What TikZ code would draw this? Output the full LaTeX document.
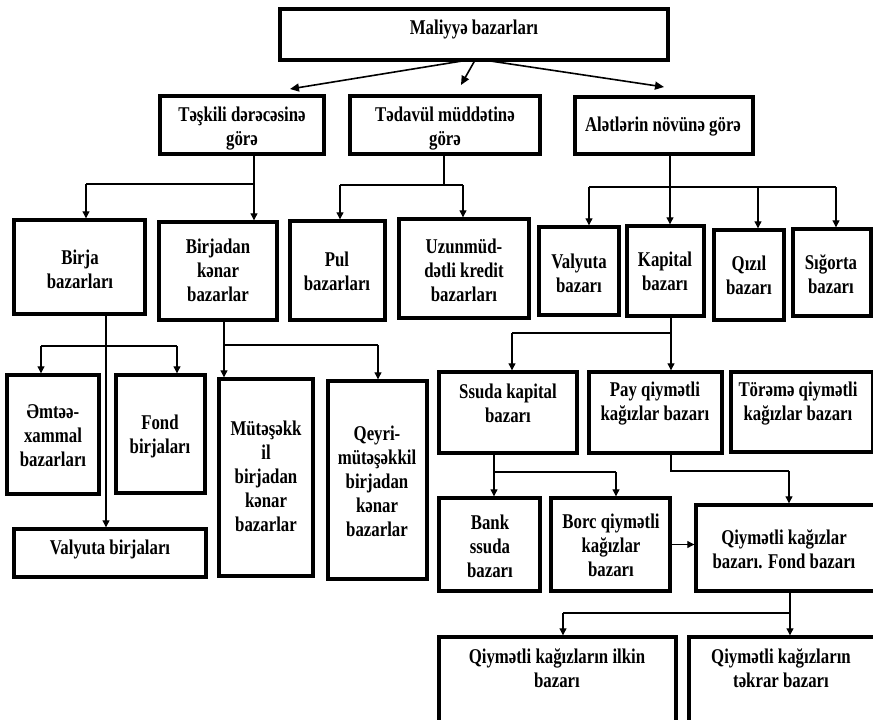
\documentclass[tikz,border=0pt]{standalone}
\usepackage{fontspec}
\setmainfont{Liberation Serif}[FakeStretch=0.8]
\usetikzlibrary{arrows.meta}
\newcommand\mybox[5]{\node[box, minimum width={#4-#2-3.6}, minimum height={#5-#3-3.6}] (#1) at ({(#2+#4)/2},{(#3+#5)/2}) {};}
\begin{document}
\begin{tikzpicture}[x=1pt,y=-1pt,
  box/.style={draw=black, line width=3.6pt, inner sep=0pt, outer sep=0pt, fill=white},
  txt/.style={font=\bfseries\fontsize{21}{24}\selectfont, align=center, inner sep=0pt},
  ln/.style={line width=1.1pt},
  arr/.style={line width=1.1pt, shorten >=1.5pt, -{Triangle[length=7pt,width=7pt]}},
  arrT/.style={line width=1.6pt, -{Triangle[length=9pt,width=8pt]}},
]
\useasboundingbox (0,0) rectangle (873,720);
\fill[white] (0,0) rectangle (873,720);
\clip (0,0) rectangle (873,720);

% boxes
\mybox{mal}{278}{7}{670}{62}
\mybox{tes}{158}{94}{326}{156}
\mybox{ted}{348}{94}{542}{156}
\mybox{ale}{573}{95}{755}{156}
\mybox{birja}{12}{218}{147}{316}
\mybox{birjk}{157}{220}{279}{322}
\mybox{pul}{288}{219}{387}{322}
\mybox{uzun}{397}{217}{531}{320}
\mybox{valb}{537}{225}{621}{317}
\mybox{kap}{625}{224}{706}{318}
\mybox{qiz}{712}{228}{786}{322}
\mybox{sig}{791}{227}{873}{318}
\mybox{emt}{5}{373}{101}{496}
\mybox{fond}{114}{373}{207}{495}
\mybox{valbir}{12}{527}{208}{579}
\mybox{mut}{217}{377}{315}{578}
\mybox{qey}{326}{379}{429}{581}
\mybox{ssuda}{437}{370}{579}{455}
\mybox{pay}{587}{370}{724}{455}
\mybox{tor}{729}{370}{875}{454}
\mybox{bank}{437}{496}{542}{593}
\mybox{borc}{549}{496}{672}{593}
\mybox{qkfb}{694}{503}{880}{593}
\mybox{ilkin}{437}{635}{678}{740}
\mybox{tekrar}{687}{635}{880}{740}

% texts
\node[txt] (mal-t) at (474,29) {Maliyyə bazarları};
\node[txt] (tes-t) at (242,128.5) {Təşkili dərəcəsinə\\görə};
\node[txt] (ted-t) at (445,128.5) {Tədavül müddətinə\\görə};
\node[txt] (ale-t) at (663,127) {Alətlərin növünə görə};
\node[txt] (birja-t) at (80,269) {Birja\\bazarları};
\node[txt] (birjk-t) at (218,270.5) {Birjadan\\kənar\\bazarlar};
\node[txt] (pul-t) at (337,271) {Pul\\bazarları};
\node[txt] (uzun-t) at (464,270) {Uzunmüd-\\dətli kredit\\bazarları};
\node[txt] (valb-t) at (579,273.5) {Valyuta\\bazarı};
\node[txt] (kap-t) at (665,271.5) {Kapital\\bazarı};
\node[txt] (qiz-t) at (749,275.5) {Qızıl\\bazarı};
\node[txt] (sig-t) at (831,274.5) {Sığorta\\bazarı};
\node[txt] (emt-t) at (53,436) {Əmtəə-\\xammal\\bazarları};
\node[txt] (fond-t) at (160,436.5) {Fond\\birjaları};
\node[txt] (valbir-t) at (110,549) {Valyuta birjaları};
\node[txt] (mut-t) at (266,476) {Mütəşəkk\\il\\birjadan\\kənar\\bazarlar};
\node[txt] (qey-t) at (377,481) {Qeyri-\\mütəşəkkil\\birjadan\\kənar\\bazarlar};
\node[txt] (ssuda-t) at (508,403.5) {Ssuda kapital\\bazarı};
\node[txt] (pay-t) at (655,403.5) {Pay qiymətli\\kağızlar bazarı};
\node[txt] (tor-t) at (798,403.5) {Törəmə qiymətli\\kağızlar bazarı};
\node[txt] (bank-t) at (490,546) {Bank\\ssuda\\bazarı};
\node[txt] (borc-t) at (611,545) {Borc qiymətli\\kağızlar\\bazarı};
\node[txt] (qkfb-t) at (784,549) {Qiymətli kağızlar\\bazarı. Fond bazarı};
\node[txt] (ilkin-t) at (557,668.5) {Qiymətli kağızların ilkin\\bazarı};
\node[txt] (tekrar-t) at (781,668.5) {Qiymətli kağızların\\təkrar bazarı};

% top connectors
\coordinate (a1) at (290,89);
\coordinate (a2) at (461,85);
\coordinate (a3) at (664,87);
\draw[arrT] ([xshift=-7pt]mal.south) -- (a1);
\draw[arrT] ([xshift=1pt]mal.south) -- (a2);
\draw[arrT] ([xshift=11pt]mal.south) -- (a3);

% Teskili
\coordinate (t1) at (254,184);
\coordinate (t2) at (86,184);
\draw[ln] (tes.south -| t1) -- (t1) -- (t2);
\draw[arr] (t1) -- (t1 |- birjk.north);
\draw[arr] (t2) -- (t2 |- birja.north);

% Tedavul
\coordinate (d1) at (444,185);
\coordinate (d2) at (340,185);
\coordinate (d3) at (463,185);
\draw[ln] (ted.south -| d1) -- (d1);
\draw[ln] (d2) -- (d3);
\draw[arr] (d2) -- (d2 |- pul.north);
\draw[arr] (d3) -- (d3 |- uzun.north);

% Aletler
\coordinate (l0) at (670,187);
\coordinate (l1) at (589,187);
\coordinate (l3) at (758,187);
\coordinate (l4) at (836,187);
\draw[ln] (ale.south -| l0) -- (l0);
\draw[ln] (l1) -- (l4);
\draw[arr] (l1) -- (l1 |- valb.north);
\draw[arr] (l0) -- (l0 |- kap.north);
\draw[arr] (l3) -- (l3 |- qiz.north);
\draw[arr] (l4) -- (l4 |- sig.north);

% Birja
\coordinate (b0) at (106,346);
\coordinate (b1) at (41,346);
\coordinate (b2) at (177,346);
\draw[arr] (birja.south -| b0) -- (b0 |- valbir.north);
\draw[ln] (b1) -- (b2);
\draw[arr] (b1) -- (b1 |- emt.north);
\draw[arr] (b2) -- (b2 |- fond.north);

% Birjadan kenar
\coordinate (k1) at (224,345);
\coordinate (k2) at (378,345);
\draw[ln] (birjk.south -| k1) -- (k1) -- (k2);
\draw[arr] (k1) -- (k1 |- mut.north);
\draw[arr] (k2) -- (k2 |- qey.north);

% Kapital
\coordinate (c1) at (671,333);
\coordinate (c2) at (512,333);
\draw[ln] (kap.south -| c1) -- (c1) -- (c2);
\draw[arr] (c1) -- (c1 |- pay.north);
\draw[arr] (c2) -- (c2 |- ssuda.north);

% Ssuda
\coordinate (s1) at (494,472);
\coordinate (s2) at (616,472);
\draw[ln] (ssuda.south -| s1) -- (s1) -- (s2);
\draw[arr] (s1) -- (s1 |- bank.north);
\draw[arr] (s2) -- (s2 |- borc.north);

% Pay
\coordinate (p1) at (671,471);
\coordinate (p2) at (789,471);
\draw[ln] (pay.south -| p1) -- (p1) -- (p2);
\draw[arr] (p2) -- (p2 |- qkfb.north);

% Borc -> QKFB
\draw[arr] (borc.east) -- (borc.east -| qkfb.west);

% QKFB
\coordinate (q1) at (790,613);
\coordinate (q2) at (563,613);
\draw[ln] (qkfb.south -| q1) -- (q1) -- (q2);
\draw[arr] (q1) -- (q1 |- tekrar.north);
\draw[arr] (q2) -- (q2 |- ilkin.north);
\end{tikzpicture}
\end{document}
